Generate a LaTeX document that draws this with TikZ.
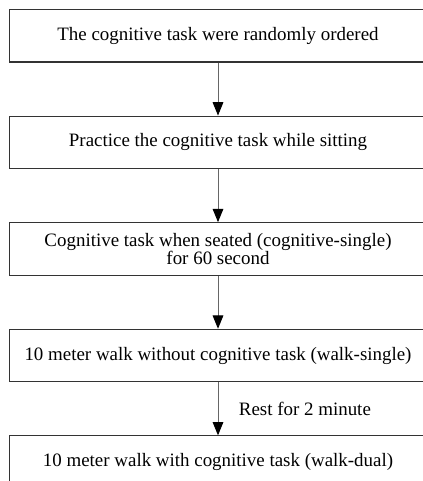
\documentclass[tikz,border=0pt]{standalone}
\usepackage{fontspec}
\setmainfont{Liberation Serif}
\usetikzlibrary{positioning,arrows.meta}

\tikzset{
    stepbox/.style={draw=black!80, line width=0.8pt, minimum width=312.75pt,
        minimum height=39.4pt, align=center, inner sep=0pt,
        font=\fontsize{14.2}{13.4}\selectfont},
    flow/.style={draw=black!60, line width=0.7pt,
        -{Triangle[length=10pt,width=8pt,color=black]}}
}

\begin{document}
\begin{tikzpicture}[x=0.75pt, y=-0.75pt, node distance=39.75pt]
    \useasboundingbox (0,0) rectangle (423,481);
    \clip (0,0) rectangle (423,481);

    % Các bước của quy trình
    \node[stepbox] (order) at (218,35.75) {The cognitive task were randomly ordered};
    \node[stepbox, below=of order] (practice) {Practice the cognitive task while sitting};
    \node[stepbox, below=of practice] (seated) {Cognitive task when seated (cognitive-single)\\for 60 second};
    \node[stepbox, below=of seated] (single) {10 meter walk without cognitive task (walk-single)};
    \node[stepbox, below=of single] (dual) {10 meter walk with cognitive task (walk-dual)};

    % Mũi tên nối
    \draw[flow] (order) -- (practice);
    \draw[flow] (practice) -- (seated);
    \draw[flow] (seated) -- (single);
    \draw[flow] (single) -- node[right, xshift=12pt, font=\fontsize{14.2}{13.4}\selectfont] (rest) {Rest for 2 minute} (dual);
\end{tikzpicture}
\end{document}
